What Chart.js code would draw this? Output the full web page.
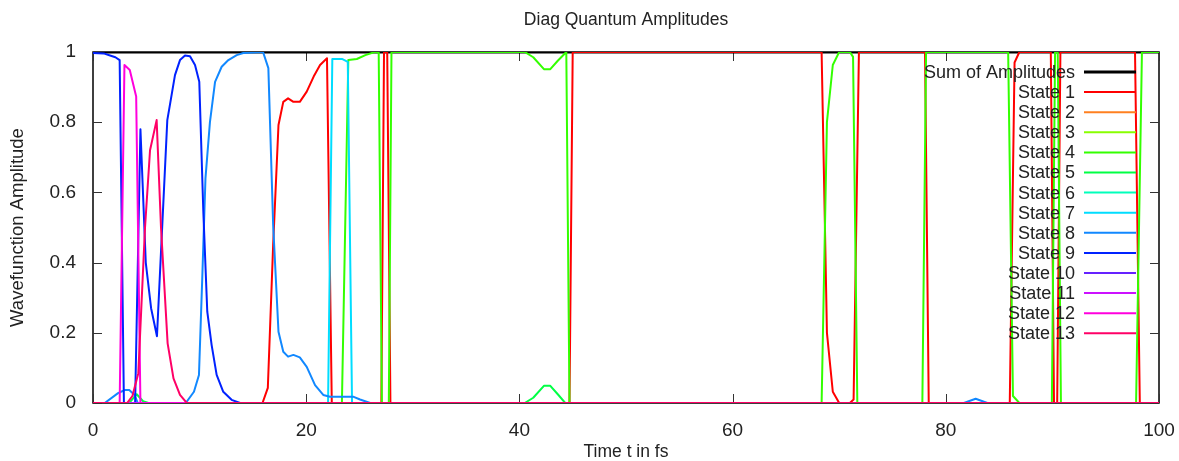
<!DOCTYPE html>
<html>
<head>
<meta charset="utf-8">
<title>Diag Quantum Amplitudes</title>
<script src="https://cdn.jsdelivr.net/npm/chart.js@4.4.1/dist/chart.umd.min.js"></script>
<style>
  html, body { margin: 0; padding: 0; background: #fff; }
  #wrap { width: 1179px; height: 461px; }
</style>
</head>
<body>
<div id="wrap"><canvas id="chart" width="1179" height="461"></canvas></div>
<script>
// values: time in fs, amplitude 0..1
const sumTime = [0, 100];
const sumAmp = [1, 1];

const state1Time = [0, 15.9, 16.4, 16.9, 17.4, 17.85, 18.3, 18.8, 19.4, 20.05, 20.7, 21.3, 21.95, 22.4, 27.05, 27.3, 27.6, 27.9, 44.7, 45.0, 68.35, 68.85, 69.4, 70.0, 71.0, 71.35, 71.85, 78.05, 78.4, 86.0, 86.45, 86.9, 89.85, 90.15, 90.45, 90.75, 97.75, 98.2, 100];
const state1Amp = [0, 0, 0.043, 0.45, 0.792, 0.858, 0.868, 0.858, 0.858, 0.887, 0.93, 0.963, 0.982, 0, 0, 1, 1, 0, 0, 1, 1, 0.2, 0.032, 0, 0, 0.01, 1, 1, 0, 0, 0.97, 1, 1, 0, 0, 1, 1, 0, 0];

const state2Time = [0, 100];
const state2Amp = [0, 0];

const state3Time = [0, 100];
const state3Amp = [0, 0];

const state4Time = [0, 23.35, 23.95, 24.75, 25.55, 26.35, 26.8, 27.1, 27.75, 28.0, 40.5, 41.3, 42.3, 42.9, 43.6, 44.4, 44.7, 68.35, 68.85, 69.4, 70.0, 71.0, 71.3, 71.7, 77.8, 78.15, 85.85, 86.3, 86.9, 89.95, 90.25, 90.5, 90.8, 97.85, 98.4, 100];
const state4Amp = [0, 0, 0.977, 0.98, 0.991, 0.999, 1, 0, 0, 1, 1, 0.985, 0.951, 0.951, 0.975, 1, 0, 0, 0.8, 0.963, 1, 1, 0.986, 0, 0, 1, 1, 0.02, 0, 0, 1, 1, 0, 0, 1, 1];

const state5Time = [0, 3.4, 4.1, 4.7, 5.2, 40.5, 41.3, 42.3, 42.9, 43.6, 44.3, 100];
const state5Amp = [0, 0, 0.025, 0.005, 0, 0, 0.015, 0.049, 0.049, 0.025, 0, 0];

const state6Time = [0, 100];
const state6Amp = [0, 0];

const state7Time = [0, 22.05, 22.45, 23.4, 23.9, 24.3, 100];
const state7Amp = [0, 0, 0.98, 0.98, 0.972, 0, 0];

const state8Time = [0, 1.1, 2.35, 3.0, 3.4, 3.9, 4.2, 8.7, 9.47, 9.94, 10.25, 10.55, 10.97, 11.45, 12.07, 12.7, 13.48, 14.1, 15.95, 16.45, 16.9, 17.4, 17.85, 18.3, 18.8, 19.4, 20.05, 20.83, 21.6, 22.23, 24.4, 25.05, 26.0, 81.7, 82.8, 83.9, 100];
const state8Amp = [0, 0, 0.028, 0.037, 0.037, 0.023, 0, 0, 0.032, 0.08, 0.356, 0.64, 0.8, 0.915, 0.958, 0.977, 0.991, 0.997, 1, 0.954, 0.507, 0.203, 0.146, 0.132, 0.137, 0.13, 0.103, 0.051, 0.023, 0.018, 0.018, 0.01, 0, 0, 0.012, 0, 0];

const state9Time = [0, 1.0, 1.6, 2.1, 2.5, 2.9, 3.95, 4.45, 4.95, 5.45, 6.0, 6.97, 7.22, 7.69, 8.16, 8.63, 9.1, 9.57, 9.97, 10.35, 10.72, 11.13, 11.6, 12.22, 13.0, 13.8, 100];
const state9Amp = [0.997, 0.996, 0.99, 0.985, 0.977, 0, 0, 0.78, 0.4, 0.27, 0.19, 0.806, 0.85, 0.934, 0.977, 0.99, 0.988, 0.963, 0.915, 0.545, 0.26, 0.165, 0.08, 0.032, 0.009, 0, 0];

const state10Time = [0, 100];
const state10Amp = [0, 0];

const state11Time = [0, 100];
const state11Amp = [0, 0];

const state12Time = [0, 2.5, 2.95, 3.45, 4.05, 4.45, 100];
const state12Amp = [0, 0, 0.963, 0.949, 0.873, 0, 0];

const state13Time = [0, 3.2, 3.7, 4.25, 4.88, 5.35, 5.97, 6.38, 7.0, 7.55, 8.16, 8.8, 100];
const state13Amp = [0, 0, 0.02, 0.085, 0.5, 0.72, 0.806, 0.5, 0.17, 0.07, 0.023, 0, 0];

const xTicks = [0, 20, 40, 60, 80, 100];
const yTicks = [0, 0.2, 0.4, 0.6, 0.8, 1];

const FONT = "'Liberation Sans', Arial, sans-serif";
const TEXT = "#222";

function toPoints(times, amps) {
  return times.map((t, i) => ({ x: t, y: amps[i] }));
}

const series = [
  ["Sum of Amplitudes", sumTime, sumAmp, "#000000", 3],
  ["State 1", state1Time, state1Amp, "#ff0000", 2],
  ["State 2", state2Time, state2Amp, "#ff8020", 2],
  ["State 3", state3Time, state3Amp, "#88ff00", 2],
  ["State 4", state4Time, state4Amp, "#33ff00", 2],
  ["State 5", state5Time, state5Amp, "#00ff44", 2],
  ["State 6", state6Time, state6Amp, "#00ffbb", 2],
  ["State 7", state7Time, state7Amp, "#00ddff", 2],
  ["State 8", state8Time, state8Amp, "#1188ff", 2],
  ["State 9", state9Time, state9Amp, "#0022ff", 2],
  ["State 10", state10Time, state10Amp, "#6622ff", 2],
  ["State 11", state11Time, state11Amp, "#cc11ff", 2],
  ["State 12", state12Time, state12Amp, "#ff00dd", 2],
  ["State 13", state13Time, state13Amp, "#ff0066", 2],
];

// gnuplot draws later curves on top, so later series get a lower order
const datasets = series.map((s, i) => ({
  label: s[0],
  data: toPoints(s[1], s[2]),
  borderColor: s[3],
  backgroundColor: s[3],
  borderWidth: s[4],
  pointRadius: 0,
  tension: 0,
  fill: false,
  borderJoinStyle: "round",
  order: -i,
}));

// border box with mirrored inward ticks
const framePlugin = {
  id: "frame",
  beforeDatasetsDraw(chart) {
    const { ctx, chartArea } = chart;
    const { left, right, top, bottom } = chartArea;
    const xs = chart.scales.x;
    const ys = chart.scales.y;
    ctx.save();
    ctx.strokeStyle = "#000";
    ctx.lineWidth = 1.5;
    ctx.strokeRect(left, top, right - left, bottom - top);
    ctx.lineWidth = 1;
    ctx.strokeStyle = "#333";
    ctx.beginPath();
    xTicks.forEach((v) => {
      const px = Math.round(xs.getPixelForValue(v)) + 0.5;
      ctx.moveTo(px, bottom);
      ctx.lineTo(px, bottom - 9);
      ctx.moveTo(px, top);
      ctx.lineTo(px, top + 9);
    });
    yTicks.forEach((v) => {
      const py = Math.round(ys.getPixelForValue(v)) + 0.5;
      ctx.moveTo(left, py);
      ctx.lineTo(left + 9, py);
      ctx.moveTo(right, py);
      ctx.lineTo(right - 9, py);
    });
    ctx.stroke();
    ctx.restore();
  },
};

// key inside the plot, text right aligned with the sample line after it
const keyPlugin = {
  id: "key",
  afterDatasetsDraw(chart) {
    const { ctx, chartArea } = chart;
    const textRight = chartArea.right - 84;
    const lineStart = chartArea.right - 75;
    const lineEnd = chartArea.right - 23;
    ctx.save();
    ctx.font = "18px " + FONT;
    ctx.textAlign = "right";
    ctx.textBaseline = "middle";
    chart.data.datasets.forEach((ds, i) => {
      const y = chartArea.top + 20 + i * 20.1;
      ctx.fillStyle = TEXT;
      ctx.fillText(ds.label, textRight, y + 1);
      ctx.strokeStyle = ds.borderColor;
      ctx.lineWidth = ds.borderWidth;
      ctx.beginPath();
      ctx.moveTo(lineStart, y);
      ctx.lineTo(lineEnd, y);
      ctx.stroke();
    });
    ctx.restore();
  },
};

new Chart(document.getElementById("chart"), {
  type: "line",
  data: { datasets: datasets },
  options: {
    responsive: false,
    animation: false,
    devicePixelRatio: 1,
    layout: { padding: { left: 0, right: 20, top: 0, bottom: 0 } },
    plugins: {
      legend: { display: false },
      tooltip: { enabled: false },
      title: {
        display: true,
        text: "Diag Quantum Amplitudes",
        fullSize: false,
        color: TEXT,
        font: { family: FONT, size: 17.5, weight: "normal", lineHeight: 1.2 },
        padding: { top: 10, bottom: 21 },
      },
    },
    scales: {
      x: {
        type: "linear",
        min: 0,
        max: 100,
        grid: { display: false },
        border: { display: false },
        ticks: {
          stepSize: 20,
          color: TEXT,
          padding: 8,
          font: { family: FONT, size: 19 },
        },
        title: {
          display: true,
          text: "Time t in fs",
          color: TEXT,
          font: { family: FONT, size: 17.5, lineHeight: 1 },
          padding: { top: 0, bottom: 0 },
        },
        afterFit(scale) {
          scale.height = 58;
          scale.paddingLeft = 0;
          scale.paddingRight = 0;
        },
      },
      y: {
        type: "linear",
        min: 0,
        max: 1,
        grid: { display: false },
        border: { display: false },
        ticks: {
          stepSize: 0.2,
          color: TEXT,
          padding: 9,
          font: { family: FONT, size: 19 },
          callback: (value) => String(Number(value.toFixed(2))),
        },
        title: {
          display: true,
          text: "Wavefunction Amplitude",
          color: TEXT,
          font: { family: FONT, size: 18.5, lineHeight: 1 },
          padding: { top: 9, bottom: 0 },
        },
        afterFit(scale) {
          scale.width = 93;
          scale.paddingTop = 0;
          scale.paddingBottom = 0;
        },
      },
    },
  },
  plugins: [framePlugin, keyPlugin],
});
</script>
</body>
</html>
